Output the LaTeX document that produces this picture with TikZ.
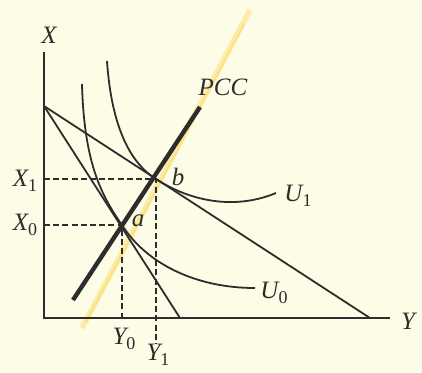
\documentclass[tikz,border=0pt]{standalone}
\usepackage{fontspec}
\usetikzlibrary{calc}
\setmainfont{Liberation Serif}
\definecolor{bg}{RGB}{253,252,230}
\definecolor{ink}{RGB}{45,45,45}
\definecolor{hl}{RGB}{252,222,110}
\begin{document}
\begin{tikzpicture}[x=0.5pt,y=-0.5pt,
  lbl/.style={text=ink,font=\fontsize{12.5}{14}\selectfont\itshape,inner sep=0pt},
  axisline/.style={draw=ink,line width=1pt},
  budget/.style={draw=ink,line width=0.9pt},
  icurve/.style={draw=ink,line width=0.9pt},
  guide/.style={draw=ink,line width=0.8pt,dash pattern=on 3pt off 1.6pt},
  pccline/.style={draw=ink,line width=2.2pt},
  marker/.style={draw=hl,line width=2.8pt,opacity=0.5}]
\fill[bg] (0,0) rectangle (422,372);
\useasboundingbox (0,0) rectangle (422,372);
% coordinates
\coordinate (O) at (44,318);
\coordinate (Xtop) at (44,52);
\coordinate (Yend) at (390,318);
\coordinate (B0) at (44,106);
\coordinate (L1) at (180,318);
\coordinate (L2) at (370,318);
\coordinate (pa) at (122,225);
\coordinate (pb) at (156,179);
\coordinate (ax0) at (44,225);
\coordinate (ax1) at (44,179);
\coordinate (ay0) at (122,318);
\coordinate (ay1) at (156,344);
\coordinate (pccS) at (73,300);
\coordinate (pccE) at (200,107);
\coordinate (hlS) at (82,328);
\coordinate (hlE) at (250,10);
% highlighter
\draw[marker] (hlS) -- (hlE);
\draw[draw=hl,line width=0.9pt,opacity=0.7] ($(hlS)+(4,-6)$) -- ($(hlE)+(-6,14)$);
% axes
\draw[axisline] (Xtop) -- (O) -- (Yend);
% budget lines
\draw[budget] (B0) -- (L1);
\draw[budget] (B0) -- (L2);
% indifference curves
\draw[icurve] (82,84) .. controls (84,160) and (100,194) .. (pa)
   .. controls (146,263) and (195,288) .. (255,288);
\draw[icurve] (107,61) .. controls (111,120) and (127,161) .. (pb)
   .. controls (185,198) and (230,212) .. (276,193);
% guides
\draw[guide] (ax1) -- (pb) -- (ay1);
\draw[guide] (ax0) -- (pa) -- (ay0);
% PCC
\draw[pccline] (pccS) -- (pccE);
% labels
\node[lbl] (lX) at (49,35) {X};
\node[lbl] (lY) at (408,321) {Y};
\node[lbl] (lPCC) at (223,87) {PCC};
\node[lbl] (lX1) at (25,181) {X\raisebox{-0.45ex}{\fontsize{9}{10}\selectfont\upshape 1}};
\node[lbl] (lX0) at (25,225) {X\raisebox{-0.45ex}{\fontsize{9}{10}\selectfont\upshape 0}};
\node[lbl] (lY0) at (124,339) {Y\raisebox{-0.45ex}{\fontsize{9}{10}\selectfont\upshape 0}};
\node[lbl] (lY1) at (158,355) {Y\raisebox{-0.45ex}{\fontsize{9}{10}\selectfont\upshape 1}};
\node[lbl] (lU1) at (298,196) {U\raisebox{-0.45ex}{\fontsize{9}{10}\selectfont\upshape 1}};
\node[lbl] (lU0) at (274,293) {U\raisebox{-0.45ex}{\fontsize{9}{10}\selectfont\upshape 0}};
\node[lbl] (la) at (138,221) {a};
\node[lbl] (lb) at (178,177) {b};
\end{tikzpicture}
\end{document}
